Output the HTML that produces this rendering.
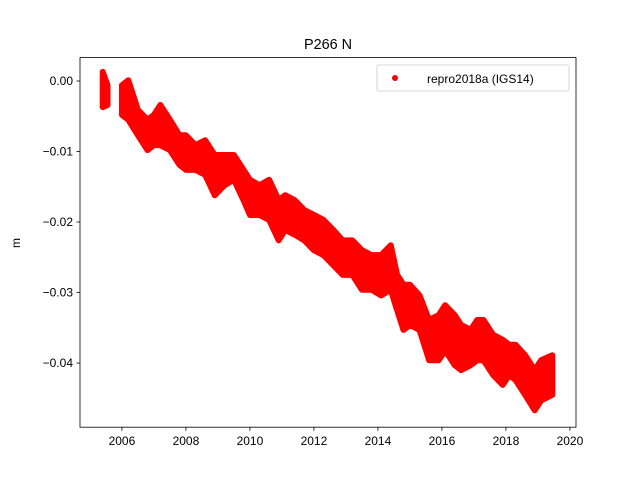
<!DOCTYPE html>
<html><head><meta charset="utf-8"><style>
body{margin:0;background:#fff}
svg{display:block;font-family:"Liberation Sans","DejaVu Sans",sans-serif}
</style></head><body>
<svg id="chart" width="640" height="480" viewBox="0 0 640 480">
<rect width="640" height="480" fill="#fff"/>
<g id="plot"></g>
<rect x="80" y="57.6" width="496" height="369.6" fill="none" stroke="#000" stroke-width="0.8"/>
<g id="xticks"></g><g id="yticks"></g>
<text x="328" y="49" text-anchor="middle" font-size="14.4">P266 N</text>
<text transform="translate(20,243) rotate(-90)" text-anchor="middle" font-size="12">m</text>
<g>
<rect x="377" y="65" width="192" height="26" rx="2" fill="#fff" stroke="#ccc" stroke-width="0.8"/>
<circle cx="395" cy="78" r="3" fill="red"/>
<text x="427" y="83" font-size="12">repro2018a (IGS14)</text>
</g>
</svg>
<script>
const times=[2005.4,2005.55,2006.0,2006.2,2006.5,2006.8,2007.0,2007.2,2007.5,2007.8,2008.0,2008.3,2008.6,2008.9,2009.2,2009.5,2009.8,2010.0,2010.3,2010.6,2010.9,2011.1,2011.4,2011.7,2012.0,2012.3,2012.6,2012.9,2013.2,2013.5,2013.8,2014.1,2014.4,2014.6,2014.8,2015.0,2015.3,2015.6,2015.9,2016.1,2016.4,2016.6,2016.9,2017.1,2017.3,2017.6,2017.9,2018.1,2018.3,2018.6,2018.9,2019.1,2019.45];
const hiVals=[0.0013,-0.0006,-0.0006,0.0001,-0.0041,-0.0055,-0.0048,-0.0034,-0.0055,-0.0077,-0.0077,-0.0091,-0.0084,-0.0105,-0.0105,-0.0105,-0.0126,-0.0140,-0.0148,-0.0140,-0.0169,-0.0162,-0.0169,-0.0183,-0.0190,-0.0197,-0.0211,-0.0226,-0.0226,-0.0240,-0.0247,-0.0247,-0.0233,-0.0275,-0.0289,-0.0289,-0.0304,-0.0339,-0.0332,-0.0318,-0.0332,-0.0346,-0.0353,-0.0339,-0.0339,-0.0360,-0.0367,-0.0374,-0.0374,-0.0389,-0.0410,-0.0396,-0.0389];
const loVals=[-0.0037,-0.0034,-0.0048,-0.0055,-0.0077,-0.0098,-0.0091,-0.0091,-0.0098,-0.0119,-0.0126,-0.0126,-0.0133,-0.0162,-0.0148,-0.0140,-0.0169,-0.0190,-0.0190,-0.0197,-0.0226,-0.0211,-0.0218,-0.0226,-0.0240,-0.0247,-0.0261,-0.0275,-0.0275,-0.0296,-0.0296,-0.0304,-0.0296,-0.0325,-0.0353,-0.0346,-0.0353,-0.0396,-0.0396,-0.0382,-0.0403,-0.0410,-0.0403,-0.0396,-0.0396,-0.0417,-0.0431,-0.0417,-0.0424,-0.0445,-0.0467,-0.0453,-0.0445];
const segmentStarts=[0,2];
const xTickLabels=[2006,2008,2010,2012,2014,2016,2018,2020];
const yTickLabels=[0.00,-0.01,-0.02,-0.03,-0.04];
const NS='http://www.w3.org/2000/svg';
const X=t=>80+(t-2004.69)/(2020.19-2004.69)*496;
const Y=v=>57.6+(0.00332-v)/(0.00332+0.0491)*369.6;
function mk(tag,attrs,parent){const e=document.createElementNS(NS,tag);for(const k in attrs)e.setAttribute(k,attrs[k]);parent.appendChild(e);return e;}
const plot=document.getElementById('plot');
for(let s=0;s<segmentStarts.length;s++){
  const a=segmentStarts[s],b=(s+1<segmentStarts.length?segmentStarts[s+1]:times.length)-1;
  let pts=[];
  for(let i=a;i<=b;i++)pts.push(X(times[i])+','+Y(hiVals[i]));
  for(let i=b;i>=a;i--)pts.push(X(times[i])+','+Y(loVals[i]));
  const p=mk('polygon',{points:pts.join(' '),fill:'red',stroke:'red','stroke-width':6,'stroke-linejoin':'round'},plot);
  
  
}
const xt=document.getElementById('xticks');
xTickLabels.forEach(t=>{const x=X(t);
  const l=mk('line',{x1:x,x2:x,y1:427.2,y2:430.7,stroke:'#000','stroke-width':0.8},xt);
  
  
  const tx=mk('text',{x:x,y:445,'text-anchor':'middle','font-size':12},xt);tx.textContent=t;
  
  
});
const yt=document.getElementById('yticks');
yTickLabels.forEach(v=>{const y=Y(v);
  const l=mk('line',{x1:76.5,x2:80,y1:y,y2:y,stroke:'#000','stroke-width':0.8},yt);
  
  
  const tx=mk('text',{x:73,y:y+4,'text-anchor':'end','font-size':12},yt);tx.textContent=(v<0?'\u2212':'')+Math.abs(v).toFixed(2);
  
  
});
</script>
</body></html>
